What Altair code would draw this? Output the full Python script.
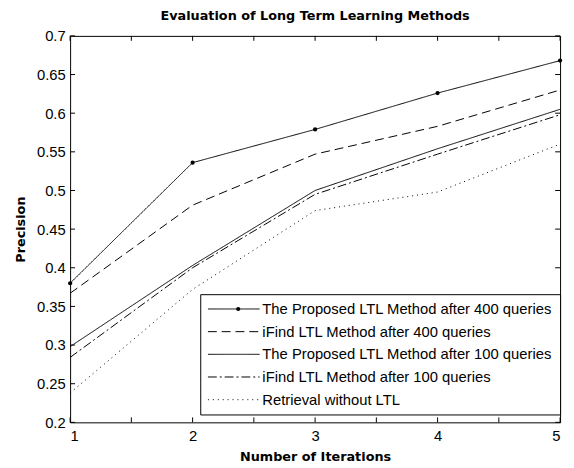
import altair as alt
import pandas as pd

iterations = [1, 2, 3, 4, 5]
series_names = [
    "The Proposed LTL Method after 400 queries",
    "iFind LTL Method after 400 queries",
    "The Proposed LTL Method after 100 queries",
    "iFind LTL Method after 100 queries",
    "Retrieval without LTL",
]
proposed_400 = [0.380, 0.536, 0.579, 0.626, 0.668]
ifind_400 = [0.367, 0.481, 0.547, 0.583, 0.630]
proposed_100 = [0.298, 0.403, 0.500, 0.554, 0.605]
ifind_100 = [0.284, 0.400, 0.495, 0.547, 0.598]
no_ltl = [0.238, 0.372, 0.474, 0.498, 0.560]
x_ticks = [1, 1.5, 2, 2.5, 3, 3.5, 4, 4.5, 5]
x_labels = [1, 2, 3, 4, 5]
y_ticks = [0.2, 0.25, 0.3, 0.35, 0.4, 0.45, 0.5, 0.55, 0.6, 0.65, 0.7]

all_series = [proposed_400, ifind_400, proposed_100, ifind_100, no_ltl]
rows = []
for name, vals in zip(series_names, all_series):
    for it, v in zip(iterations, vals):
        rows.append({"Iteration": it, "Precision": v, "Method": name})
df = pd.DataFrame(rows)
df_marker = df[df["Method"] == series_names[0]].rename(columns={"Method": "Marker"})
xt = pd.DataFrame({"Iteration": x_ticks})
yt = pd.DataFrame({"Precision": y_ticks})

W, H = 497, 392
TICK = 5
FONT = "Liberation Sans"
BOLD = "DejaVu Sans"

xscale = alt.Scale(domain=[1, 5], nice=False, zero=False)
yscale = alt.Scale(domain=[0.2, 0.7], nice=False, zero=False)
x_axis = alt.Axis(values=x_labels, format="d", title="Number of Iterations",
                  tickSize=0, labelPadding=6, titlePadding=8, labelOverlap=False)
y_axis = alt.Axis(values=y_ticks, format=".2~f", title="Precision",
                  tickSize=0, labelPadding=5, titlePadding=9, labelOverlap=False)
X = alt.X("Iteration:Q", scale=xscale, axis=x_axis)
Y = alt.Y("Precision:Q", scale=yscale, axis=y_axis)

dashes = [[1, 0], [9, 5], [1, 0], [9, 3, 2, 3], [1, 4]]

lines = alt.Chart(df).mark_line(color="black", strokeWidth=1).encode(
    x=X, y=Y,
    strokeDash=alt.StrokeDash(
        "Method:N",
        scale=alt.Scale(domain=series_names, range=dashes),
        sort=series_names,
        legend=alt.Legend(
            title=None, orient="none", legendX=132, legendY=262,
            symbolType="stroke", symbolSize=2750, symbolStrokeColor="black",
            symbolStrokeWidth=1, labelFont=FONT, labelFontSize=15,
            labelColor="black", labelLimit=0, labelOffset=2,
            strokeColor="black", fillColor="white", padding=7,
            rowPadding=7, clipHeight=16, cornerRadius=0,
        ),
    ),
    detail="Method:N",
)

markers = alt.Chart(df_marker).mark_point(filled=True, color="black", size=18, opacity=1).encode(
    x=X, y=Y,
    shape=alt.Shape(
        "Marker:N",
        scale=alt.Scale(domain=[series_names[0]], range=["circle"]),
        legend=alt.Legend(
            title=None, orient="none", legendX=163, legendY=269,
            symbolSize=18, symbolFillColor="black", symbolStrokeColor="black",
            symbolStrokeWidth=0, symbolOpacity=1, clipHeight=16,
            labelExpr="''", labelFontSize=15, labelLimit=0, padding=0,
        ),
    ),
)

xt_bottom = alt.Chart(xt).mark_rule(color="black", strokeWidth=1).encode(
    x=X, y=alt.value(H), y2=alt.value(H - TICK),
)
xt_top = alt.Chart(xt).mark_rule(color="black", strokeWidth=1).encode(
    x=X, y=alt.value(0), y2=alt.value(TICK),
)
yt_left = alt.Chart(yt).mark_rule(color="black", strokeWidth=1).encode(
    y=Y, x=alt.value(0), x2=alt.value(TICK),
)
yt_right = alt.Chart(yt).mark_rule(color="black", strokeWidth=1).encode(
    y=Y, x=alt.value(W), x2=alt.value(W - TICK),
)

chart = alt.layer(lines, markers, xt_bottom, xt_top, yt_left, yt_right).properties(
    width=W, height=H,
    title=alt.TitleParams("Evaluation of Long Term Learning Methods", font=BOLD,
                          fontSize=13, fontWeight="bold", color="black", offset=6),
    autosize=alt.AutoSizeParams(type="none"),
    padding={"left": 63, "top": 25, "right": 6, "bottom": 42},
).configure_view(
    stroke="black", strokeWidth=1
).configure_axis(
    grid=False, domain=False, labelFont=FONT, labelFontSize=15, labelColor="black",
    titleFont=BOLD, titleFontSize=13, titleFontWeight="bold", titleColor="black",
)

chart.save("out.html", embed_options={"renderer": "svg", "actions": False})
